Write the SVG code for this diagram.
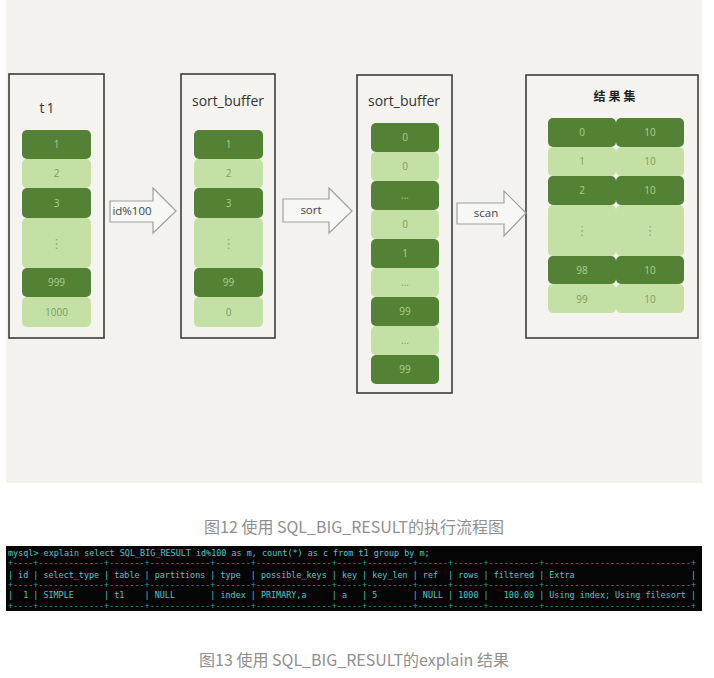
<svg xmlns="http://www.w3.org/2000/svg" width="714" height="678" viewBox="0 0 714 678">
<style>
.panel{fill:#f3f2ee}
.box{fill:#f4f3ef;stroke:#3c3c3c;stroke-width:1.6}
.dk{fill:#548235}
.lt{fill:#c5e0a4}
.tdk{font-family:"Open Sans","DejaVu Sans",sans-serif;font-size:10px;fill:#a9d18e;text-anchor:middle}
.tlt{font-family:"Open Sans","DejaVu Sans",sans-serif;font-size:10px;fill:#7a9c5f;text-anchor:middle}
.vd{font-family:"DejaVu Sans",sans-serif;font-size:13px;text-anchor:middle}
.lbl{font-family:"Open Sans","DejaVu Sans",sans-serif;font-size:14px;fill:#333;text-anchor:middle}
.arr{fill:#f7f7f5;stroke:#a0a0a0;stroke-width:1.2}
.alb{font-family:"Open Sans","DejaVu Sans",sans-serif;font-size:11.5px;fill:#444;text-anchor:middle}
.term{fill:#050505}
.mono{font-family:"DejaVu Sans Mono","Liberation Mono",monospace;font-size:8.45px;fill:#42cccc;white-space:pre}
.bd{fill:#2b9f9f}
.cap{font-family:"Noto Sans CJK SC","Noto Sans",sans-serif;font-size:16px;fill:#8f8f8f;text-anchor:middle}
</style>
<rect class="panel" x="6" y="0" width="696" height="483"/>

<g id="node-t1">
<rect class="box" x="9" y="74" width="95" height="264"/>
<text class="lbl" x="48" y="113" letter-spacing="2">t1</text>
<rect class="dk" x="22" y="130" width="69" height="29" rx="5"/>
<rect class="lt" x="22" y="159" width="69" height="29" rx="5"/>
<rect class="dk" x="22" y="188" width="69" height="30" rx="5"/>
<rect class="lt" x="22" y="218" width="69" height="50" rx="5"/>
<rect class="dk" x="22" y="268" width="69" height="29" rx="5"/>
<rect class="lt" x="22" y="297" width="69" height="30" rx="5"/>
<text class="tdk" x="56.5" y="148">1</text>
<text class="tlt" x="56.5" y="177">2</text>
<text class="tdk" x="56.5" y="207">3</text>
<text class="vd" x="56.5" y="248" fill="#8fae76">⋮</text>
<text class="tdk" x="56.5" y="286">999</text>
<text class="tlt" x="56.5" y="316">1000</text>
</g>

<g id="node-sort-buffer-1">
<rect class="box" x="181" y="74" width="94" height="264"/>
<text class="lbl" x="228" y="106">sort_buffer</text>
<rect class="dk" x="194" y="130" width="69" height="29" rx="5"/>
<rect class="lt" x="194" y="159" width="69" height="29" rx="5"/>
<rect class="dk" x="194" y="188" width="69" height="30" rx="5"/>
<rect class="lt" x="194" y="218" width="69" height="50" rx="5"/>
<rect class="dk" x="194" y="268" width="69" height="29" rx="5"/>
<rect class="lt" x="194" y="297" width="69" height="30" rx="5"/>
<text class="tdk" x="228.5" y="148">1</text>
<text class="tlt" x="228.5" y="177">2</text>
<text class="tdk" x="228.5" y="207">3</text>
<text class="vd" x="228.5" y="248" fill="#8fae76">⋮</text>
<text class="tdk" x="228.5" y="286">99</text>
<text class="tlt" x="228.5" y="316">0</text>
</g>

<g id="node-sort-buffer-2">
<rect class="box" x="357" y="75" width="95" height="318"/>
<text class="lbl" x="404" y="106">sort_buffer</text>
<rect class="dk" x="371" y="123" width="68" height="29" rx="5"/>
<rect class="lt" x="371" y="152" width="68" height="29" rx="5"/>
<rect class="dk" x="371" y="181" width="68" height="29" rx="5"/>
<rect class="lt" x="371" y="210" width="68" height="29" rx="5"/>
<rect class="dk" x="371" y="239" width="68" height="29" rx="5"/>
<rect class="lt" x="371" y="268" width="68" height="29" rx="5"/>
<rect class="dk" x="371" y="297" width="68" height="29" rx="5"/>
<rect class="lt" x="371" y="326" width="68" height="29" rx="5"/>
<rect class="dk" x="371" y="355" width="68" height="29" rx="5"/>
<text class="tdk" x="405" y="141">0</text>
<text class="tlt" x="405" y="170">0</text>
<text class="tdk" x="405" y="199">...</text>
<text class="tlt" x="405" y="228">0</text>
<text class="tdk" x="405" y="257">1</text>
<text class="tlt" x="405" y="286">...</text>
<text class="tdk" x="405" y="315">99</text>
<text class="tlt" x="405" y="344">...</text>
<text class="tdk" x="405" y="373">99</text>
</g>

<g id="node-result">
<rect class="box" x="526" y="75" width="172" height="263"/>
<text x="616" y="101" font-family="Noto Sans CJK SC,sans-serif" font-size="12" font-weight="bold" fill="#222" text-anchor="middle" letter-spacing="3">结果集</text>
<rect class="dk" x="548" y="118" width="68" height="29" rx="5"/>
<rect class="dk" x="616" y="118" width="68" height="29" rx="5"/>
<rect class="lt" x="548" y="147" width="68" height="29" rx="5"/>
<rect class="lt" x="616" y="147" width="68" height="29" rx="5"/>
<rect class="dk" x="548" y="176" width="68" height="29" rx="5"/>
<rect class="dk" x="616" y="176" width="68" height="29" rx="5"/>
<rect class="lt" x="548" y="205" width="68" height="51" rx="5"/>
<rect class="lt" x="616" y="205" width="68" height="51" rx="5"/>
<rect class="dk" x="548" y="256" width="68" height="28" rx="5"/>
<rect class="dk" x="616" y="256" width="68" height="28" rx="5"/>
<rect class="lt" x="548" y="284" width="68" height="29" rx="5"/>
<rect class="lt" x="616" y="284" width="68" height="29" rx="5"/>
<text class="tdk" x="582" y="136">0</text><text class="tdk" x="650" y="136">10</text>
<text class="tlt" x="582" y="165">1</text><text class="tlt" x="650" y="165">10</text>
<text class="tdk" x="582" y="194">2</text><text class="tdk" x="650" y="194">10</text>
<text class="vd" x="582" y="235" fill="#8fae76">⋮</text><text class="vd" x="650" y="235" fill="#8fae76">⋮</text>
<text class="tdk" x="582" y="274">98</text><text class="tdk" x="650" y="274">10</text>
<text class="tlt" x="582" y="303">99</text><text class="tlt" x="650" y="303">10</text>
</g>

<g id="connectors">
<polygon class="arr" points="110,201 153,201 153,188 176,211 153,233 153,222 110,222"/>
<text class="alb" x="132" y="215">id%100</text>
<polygon class="arr" points="283,199 329,199 329,188 352,211 329,233 329,222 283,222"/>
<text class="alb" x="311" y="214">sort</text>
<polygon class="arr" points="457,203 504,203 504,191 526,213 504,236 504,224 457,224"/>
<text class="alb" x="486" y="217">scan</text>
</g>

<text class="cap" x="354" y="533">图12 使用 SQL_BIG_RESULT的执行流程图</text>

<g id="terminal">
<rect class="term" x="6" y="546" width="696" height="65"/>
<text class="mono" x="8" y="555.5">mysql&gt; explain select SQL_BIG_RESULT id%100 as m, count(*) as c from t1 group by m;</text>
<text class="mono bd" x="8" y="566" textLength="688" lengthAdjust="spacingAndGlyphs">+----+-------------+-------+------------+-------+---------------+-----+---------+------+------+----------+-----------------------------+</text>
<text class="mono" x="8" y="577.5" textLength="688" lengthAdjust="spacingAndGlyphs">| id | select_type | table | partitions | type  | possible_keys | key | key_len | ref  | rows | filtered | Extra                       |</text>
<text class="mono bd" x="8" y="588" textLength="688" lengthAdjust="spacingAndGlyphs">+----+-------------+-------+------------+-------+---------------+-----+---------+------+------+----------+-----------------------------+</text>
<text class="mono" x="8" y="598" textLength="688" lengthAdjust="spacingAndGlyphs">|  1 | SIMPLE      | t1    | NULL       | index | PRIMARY,a     | a   | 5       | NULL | 1000 |   100.00 | Using index; Using filesort |</text>
<text class="mono bd" x="8" y="609" textLength="688" lengthAdjust="spacingAndGlyphs">+----+-------------+-------+------------+-------+---------------+-----+---------+------+------+----------+-----------------------------+</text>
</g>

<text class="cap" x="354" y="666">图13 使用 SQL_BIG_RESULT的explain 结果</text>
</svg>
